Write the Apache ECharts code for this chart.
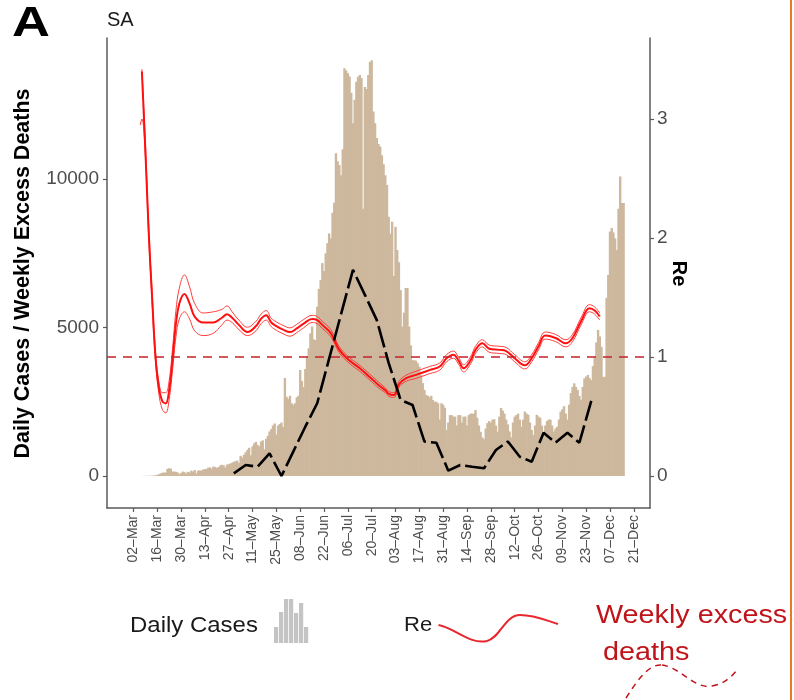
<!DOCTYPE html>
<html>
<head>
<meta charset="utf-8">
<script src="https://cdn.jsdelivr.net/npm/echarts@6/dist/echarts.min.js"></script>
<style>html,body{margin:0;padding:0;background:#fff}#c{width:794px;height:700px}</style>
</head>
<body>
<div id="c"></div>
<script>
// ---------- data ----------
const categoryStartUTC = [2020, 1, 16];   // 16-Feb-2020, first category (daily)
const categoryCount = 319;
const tickLabels = ['02–Mar','16–Mar','30–Mar','13–Apr','27–Apr','11–May','25–May','08–Jun','22–Jun','06–Jul','20–Jul','03–Aug','17–Aug','31–Aug','14–Sep','28–Sep','12–Oct','26–Oct','09–Nov','23–Nov','07–Dec','21–Dec'];
const leftTicks = [0, 5000, 10000];
const rightTicks = [0, 1, 2, 3];
const reThreshold = 1;

// daily cases, first value on 05–Mar
const casesStart = '05–Mar';
const dailyCases = [
  1, 0, 2, 4,
  3, 6, 5, 7, 13, 14, 23,
  40, 55, 85, 110, 115, 120, 240,
  260, 250, 150, 150, 140, 120, 60,
  100, 150, 130, 80, 140, 120, 180,
  150, 200, 90, 180, 190, 180, 220,
  230, 240, 280, 290, 250, 320, 300,
  270, 300, 350, 380, 360, 290, 380,
  400, 420, 450, 480, 500, 520, 440,
  680, 620, 720, 800, 880, 950, 700,
  1000, 1100, 1150, 1050, 1000, 1160, 1200,
  900, 1250, 1350, 1500, 1580, 1700, 1770,
  1400, 1700, 1750, 1800, 1650, 3300, 2670,
  2600, 2700, 2450, 2400, 2450, 2650, 2700,
  3570, 3200, 3000, 3600, 4020, 4300, 4800,
  5030, 4600, 4580, 5700, 6300, 6600, 7170,
  6900, 7500, 7840, 8170, 8000, 8860, 9200,
  10870, 10600, 10470, 10130, 11000, 13730, 13650,
  13560, 13450, 12900, 11880, 12670, 13270, 13440,
  13500, 13400, 9000, 13100, 13030, 13500, 13940,
  14000, 12270, 11880, 11380, 11180, 11090, 10800,
  10500, 10130, 9800, 8730, 8160, 8560, 6730,
  8390, 7610, 7200, 6260, 5030, 5500, 6330,
  6330, 5030, 4400, 3900, 3900, 3880, 3800,
  3680, 3400, 3130, 2900, 2730, 2700, 2650,
  2700, 2560, 2500, 2500, 2450, 1900, 2450,
  2400, 2300, 1550, 1800, 2050, 2050, 2000,
  2000, 1700, 2050, 2050, 1800, 2000, 2000,
  1700, 2050, 2100, 2100, 2100, 2220, 1960,
  1700, 1490, 1300, 1240, 1600, 1780, 1850,
  1800, 1900, 1910, 1700, 1490, 2000, 2290,
  2200, 2100, 1900, 1740, 1500, 1300, 1800,
  2000, 2050, 2100, 1900, 1660, 1900, 2170,
  2100, 2060, 1800, 1550, 1380, 1700, 2060,
  2000, 1960, 1700, 1500, 1700, 1850, 1900,
  1900, 1700, 1500, 1600, 1660, 1900, 2170,
  2250, 2350, 2100, 1900, 2400, 2790, 3000,
  3120, 3000, 2900, 2700, 2570, 3000, 3290,
  3350, 3400, 3300, 3230, 3700, 4020, 4500,
  4920, 4700, 4350, 3340, 3340, 6000, 6770,
  8230, 8350, 8200, 8000, 7610, 9000, 10080,
  9190, 9190
];

// weekly excess deaths (days after 02–Mar)
const deathDays = [59, 66, 73, 80, 87, 94, 101, 108, 115, 122, 129, 136, 143, 150, 157, 164, 171, 178, 185, 192, 199, 206, 213, 220, 227, 234, 241, 248, 255, 262, 269];
const weeklyExcessDeaths = [90, 370, 310, 760, 0, 830, 1660, 2450, 3950, 5450, 6940, 6100, 5250, 3800, 2560, 2390, 1160, 1120, 180, 370, 310, 260, 875, 1160, 650, 480, 1460, 1120, 1460, 1120, 2530];

// Re estimates (days after 02–Mar)
const reDays = [4, 5, 7, 9, 11, 13, 15, 17, 19, 21, 23, 25, 27, 30, 33, 36, 41, 47, 52, 55, 58, 62, 67, 72, 75, 78, 81, 84, 88, 92, 96, 100, 105, 108, 111, 116, 121, 127, 133, 139, 144, 148, 150, 153, 156, 160, 166, 174, 180, 184, 188, 191, 194, 198, 201, 205, 209, 215, 219, 224, 230, 234, 238, 242, 248, 254, 258, 263, 268, 271, 274];
const reMid = [null, 3.40, 2.75, 2.05, 1.50, 1.00, 0.74, 0.63, 0.61, 0.72, 0.98, 1.28, 1.45, 1.53, 1.45, 1.34, 1.29, 1.29, 1.33, 1.36, 1.33, 1.27, 1.21, 1.26, 1.32, 1.35, 1.29, 1.26, 1.23, 1.21, 1.24, 1.28, 1.32, 1.31, 1.27, 1.20, 1.06, 0.97, 0.905, 0.83, 0.765, 0.72, 0.69, 0.68, 0.77, 0.82, 0.85, 0.89, 0.92, 0.99, 1.02, 0.97, 0.905, 0.97, 1.06, 1.115, 1.07, 1.06, 1.05, 0.99, 0.93, 0.99, 1.09, 1.18, 1.16, 1.115, 1.16, 1.30, 1.41, 1.39, 1.34];
const reLow = [2.95, 3.00, 2.70, 2.01, 1.46, 0.96, 0.69, 0.56, 0.53, 0.64, 0.89, 1.17, 1.32, 1.38, 1.32, 1.22, 1.18, 1.20, 1.27, 1.31, 1.29, 1.23, 1.18, 1.22, 1.28, 1.31, 1.255, 1.225, 1.195, 1.175, 1.205, 1.245, 1.29, 1.28, 1.24, 1.17, 1.035, 0.945, 0.88, 0.805, 0.74, 0.70, 0.67, 0.66, 0.745, 0.795, 0.82, 0.86, 0.89, 0.96, 0.99, 0.94, 0.875, 0.94, 1.03, 1.085, 1.04, 1.03, 1.02, 0.96, 0.90, 0.96, 1.06, 1.15, 1.13, 1.085, 1.13, 1.27, 1.38, 1.36, 1.31];
const reHigh = [null, 3.42, 2.80, 2.09, 1.54, 1.04, 0.79, 0.70, 0.70, 0.80, 1.07, 1.39, 1.58, 1.69, 1.59, 1.45, 1.37, 1.38, 1.40, 1.43, 1.38, 1.31, 1.25, 1.30, 1.36, 1.39, 1.325, 1.295, 1.265, 1.245, 1.275, 1.315, 1.35, 1.34, 1.30, 1.23, 1.085, 0.995, 0.93, 0.855, 0.79, 0.74, 0.71, 0.70, 0.795, 0.845, 0.88, 0.92, 0.95, 1.02, 1.05, 1.00, 0.935, 1.00, 1.09, 1.145, 1.10, 1.09, 1.08, 1.02, 0.96, 1.02, 1.12, 1.21, 1.19, 1.145, 1.19, 1.33, 1.44, 1.42, 1.37];

// ---------- build ----------
const months = ['Jan','Feb','Mar','Apr','May','Jun','Jul','Aug','Sep','Oct','Nov','Dec'];
const categories = [];
const t0 = Date.UTC(categoryStartUTC[0], categoryStartUTC[1], categoryStartUTC[2]);
for (let i = 0; i < categoryCount; i++) {
  const dt = new Date(t0 + i * 86400000);
  categories.push(String(dt.getUTCDate()).padStart(2, '0') + '–' + months[dt.getUTCMonth()]);
}
const origin = categories.indexOf('02–Mar');
const caseOffset = categories.indexOf(casesStart);
const barData = categories.map((c, i) => {
  const k = i - caseOffset;
  return (k >= 0 && k < dailyCases.length) ? dailyCases[k] : null;
});
const deathData = deathDays.map((d, i) => [origin + d, weeklyExcessDeaths[i]]);
const reSeries = arr => reDays.map((d, i) => [origin + d, arr[i]]);
const isTick = (idx, val) => tickLabels.indexOf(val) >= 0;

const FONT = '"Liberation Sans", Arial, Helvetica, sans-serif';
const axisColor = '#5a5a5a';
const labelColor = '#4d4d4d';

function txt(x, y, text, font, fill, opts) {
  return Object.assign({
    type: 'text', x: x, y: y,
    style: {text: text, font: font, fill: fill, textAlign: 'left', align: 'left', textVerticalAlign: 'middle', verticalAlign: 'middle'}
  }, opts || {});
}
function bez(p, style) {
  return {type: 'bezierCurve', shape: {x1: p[0], y1: p[1], cpx1: p[2], cpy1: p[3], cpx2: p[4], cpy2: p[5], x2: p[6], y2: p[7]}, style: style};
}
const redWave = {stroke: '#e8262e', fill: null, lineWidth: 2};
const dashWave = {stroke: '#c0141b', fill: null, lineWidth: 1.5, lineDash: [6, 5]};

const chart = echarts.init(document.getElementById('c'), null, {renderer: 'canvas'});
chart.setOption({
  animation: false,
  textStyle: {fontFamily: FONT},
  grid: {left: 107, right: 144, top: 38, bottom: 192, containLabel: false},
  xAxis: {
    type: 'category',
    data: categories,
    boundaryGap: true,
    axisLine: {show: true, onZero: false, lineStyle: {color: axisColor, width: 1.5}},
    axisTick: {show: true, alignWithLabel: true, interval: isTick, length: 4, lineStyle: {color: axisColor, width: 1.2}},
    axisLabel: {interval: isTick, rotate: 90, fontSize: 14, color: labelColor, margin: 7, fontFamily: FONT},
    splitLine: {show: false}
  },
  yAxis: [
    {
      type: 'value', position: 'left', min: -1077, max: 14747,
      axisLine: {show: true, lineStyle: {color: axisColor, width: 1.5}},
      axisTick: {show: true, length: 4, customValues: leftTicks, lineStyle: {color: axisColor, width: 1.2}},
      axisLabel: {customValues: leftTicks, formatter: v => String(v), fontSize: 19, color: labelColor, margin: 8, fontFamily: FONT},
      splitLine: {show: false}
    },
    {
      type: 'value', position: 'right', min: -0.269, max: 3.681,
      axisLine: {show: true, lineStyle: {color: axisColor, width: 1.5}},
      axisTick: {show: true, length: 4, customValues: rightTicks, lineStyle: {color: axisColor, width: 1.2}},
      axisLabel: {customValues: rightTicks, formatter: v => String(v), fontSize: 19, color: labelColor, margin: 7, fontFamily: FONT},
      splitLine: {show: false}
    }
  ],
  series: [
    {
      name: 'Daily Cases', type: 'bar', data: barData, yAxisIndex: 0,
      barWidth: '140%', itemStyle: {color: '#cdb89e'}, z: 1, silent: true
    },
    {
      name: 'Re upper', type: 'line', data: reSeries(reHigh), yAxisIndex: 1, smooth: 0.4,
      symbol: 'none', lineStyle: {color: '#ff3b3b', width: 1}, z: 3, silent: true
    },
    {
      name: 'Re lower', type: 'line', data: reSeries(reLow), yAxisIndex: 1, smooth: 0.4,
      symbol: 'none', lineStyle: {color: '#ff3b3b', width: 1}, z: 3, silent: true
    },
    {
      name: 'Re', type: 'line', data: reSeries(reMid), yAxisIndex: 1, smooth: 0.4,
      symbol: 'none', lineStyle: {color: '#ff1010', width: 2}, z: 4, silent: true,
      markLine: {
        silent: true, symbol: 'none', animation: false,
        label: {show: false},
        lineStyle: {color: '#c8202a', width: 1.5, type: [9, 7]},
        data: [{yAxis: reThreshold}]
      }
    },
    {
      name: 'Weekly excess deaths', type: 'line', data: deathData, yAxisIndex: 0,
      symbol: 'none', lineStyle: {color: '#000', width: 2.6, type: [22, 5]}, z: 5, silent: true
    }
  ],
  graphic: [
    txt(12, 24, 'A', 'bold 42px ' + FONT, '#000', {scaleX: 1.25}),
    txt(107, 20, 'SA', '20px ' + FONT, '#1a1a1a'),
    {type: 'text', x: 23.5, y: 273.5, rotation: Math.PI / 2, style: {text: 'Daily Cases / Weekly Excess Deaths', font: 'bold 21.5px ' + FONT, fill: '#000', textAlign: 'center', align: 'center', textVerticalAlign: 'middle', verticalAlign: 'middle'}},
    {type: 'text', x: 678.5, y: 273.5, rotation: -Math.PI / 2, style: {text: 'Re', font: 'bold 20px ' + FONT, fill: '#000', textAlign: 'center', align: 'center', textVerticalAlign: 'middle', verticalAlign: 'middle'}},
    // legend
    txt(130, 626, 'Daily Cases', '22px ' + FONT, '#1a1a1a', {scaleX: 1.09}),
    {type: 'rect', shape: {x: 274, y: 627, width: 4.2, height: 16}, style: {fill: '#c4c4c4'}},
    {type: 'rect', shape: {x: 279, y: 612, width: 4.2, height: 31}, style: {fill: '#c4c4c4'}},
    {type: 'rect', shape: {x: 284, y: 599, width: 4.2, height: 44}, style: {fill: '#c4c4c4'}},
    {type: 'rect', shape: {x: 289, y: 599, width: 4.2, height: 44}, style: {fill: '#c4c4c4'}},
    {type: 'rect', shape: {x: 294, y: 613, width: 4.2, height: 30}, style: {fill: '#c4c4c4'}},
    {type: 'rect', shape: {x: 299, y: 603, width: 4.2, height: 40}, style: {fill: '#c4c4c4'}},
    {type: 'rect', shape: {x: 304, y: 627, width: 4.2, height: 16}, style: {fill: '#c4c4c4'}},
    txt(404, 625, 'Re', '21px ' + FONT, '#1a1a1a', {scaleX: 1.05}),
    bez([438.5, 625, 455, 628, 470, 645, 487, 641], redWave),
    bez([487, 641, 500, 638, 505, 615, 520, 615], redWave),
    bez([520, 615, 535, 615, 545, 620, 558, 624], redWave),
    txt(596, 616, 'Weekly excess', '25px ' + FONT, '#c0141b', {scaleX: 1.15}),
    txt(603, 653, 'deaths', '25px ' + FONT, '#c0141b', {scaleX: 1.15}),
    bez([626, 698, 640, 676, 650, 664, 662, 665], dashWave),
    bez([662, 665, 680, 667, 695, 690, 712, 686], dashWave),
    bez([712, 686, 725, 684, 732, 676, 738, 669], dashWave),
    {type: 'line', shape: {x1: 791, y1: 0, x2: 791, y2: 700}, style: {stroke: '#e87a22', lineWidth: 2}}
  ]
});
</script>
</body>
</html>
